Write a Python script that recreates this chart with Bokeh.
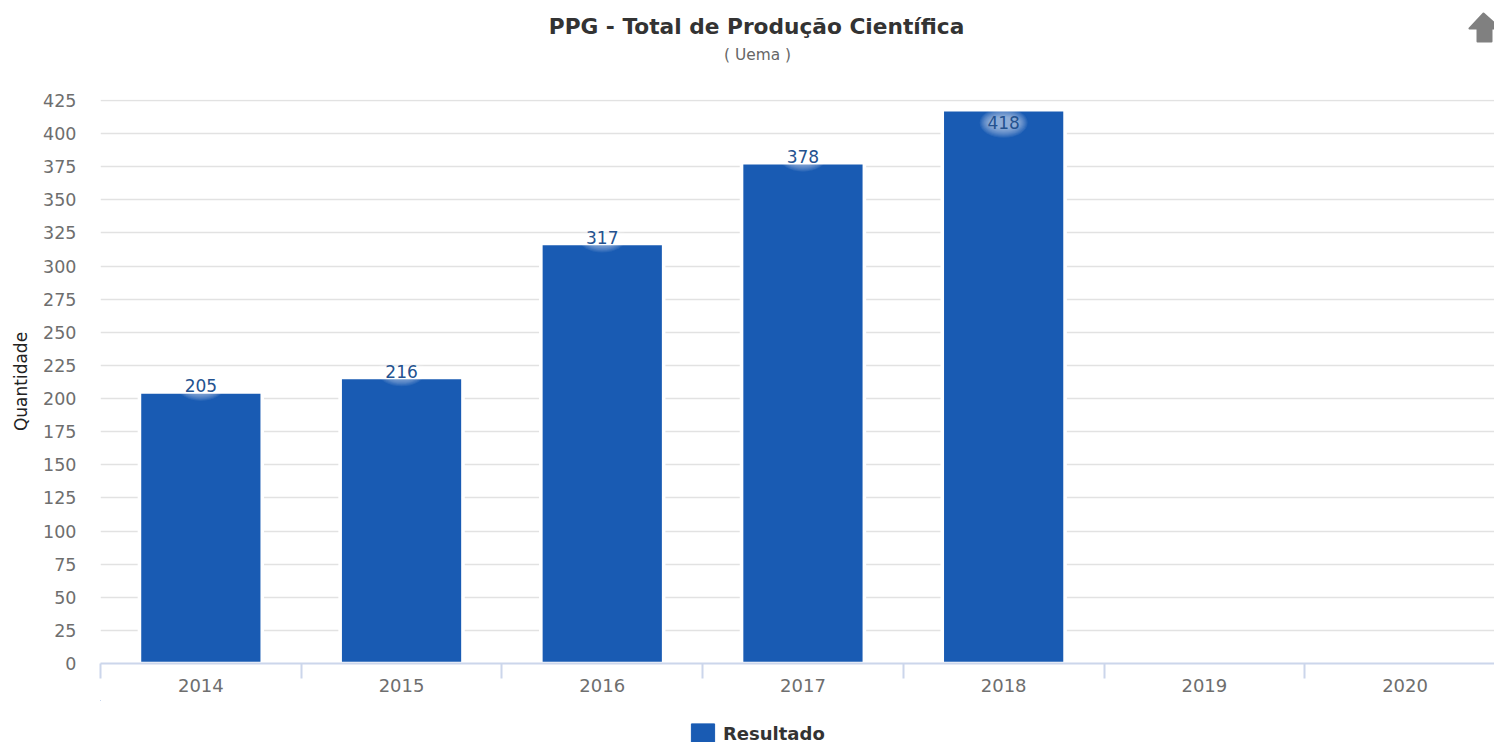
from bokeh.plotting import figure
from bokeh.layouts import column
from bokeh.embed import file_html
from bokeh.resources import INLINE
from bokeh.core.properties import value
from bokeh.models import (Range1d, FixedTicker, Legend, LegendItem, ColumnDataSource)

years = ["2014", "2015", "2016", "2017", "2018", "2019", "2020"]
results = [205, 216, 317, 378, 418]
y_ticks = list(range(0, 426, 25))
title_text = "PPG - Total de Produção Científica"
subtitle_text = "( Uema )"
y_title = "Quantidade"
series_name = "Resultado"

FONT = "DejaVu Sans"
BLUE = "#195bb3"
W = 1494
HEAD_H, MAIN_H, FOOT_H = 80, 620, 42
LEFT, TOP, BOTTOM = 100, 19, 37
CELL = 200.7
PX = 425 / 563            # data units per pixel
Y_MAX = 425 + PX          # one pixel of headroom, so the top grid line is drawn
X_START = -0.5


def blank(height):
    """A strip of the page; the stacked frames line up, so its x range starts at LEFT."""
    f = figure(width=W, height=height, output_backend="svg", toolbar_location=None,
               x_range=Range1d(LEFT, W), y_range=Range1d(height, 0),
               min_border_left=LEFT, min_border_right=0, min_border_top=0, min_border_bottom=0,
               x_axis_location=None, y_axis_location=None)
    f.grid.visible = False
    f.outline_line_color = None
    f.background_fill_color = "white"
    f.border_fill_color = "white"
    return f


# header: title, subtitle, exporting-menu icon
head = blank(HEAD_H)
head.text(x=[756], y=[26], text=[title_text], text_align="center", text_baseline="middle",
          text_font=value(FONT), text_font_size="21.7px", text_font_style="bold", text_color="#333333")
head.text(x=[757], y=[54], text=[subtitle_text], text_align="center", text_baseline="middle",
          text_font=value(FONT), text_font_size="15.4px", text_color="#666666")
icon_x = [1483, 1469, 1477, 1477, 1491, 1491, 1500]
icon_y = [13, 28, 28, 41, 41, 28, 28]
head.patch(icon_x, icon_y, fill_color="#808080", line_color="#808080", line_width=2, line_join="round")

# main chart
p = figure(width=W, height=MAIN_H, output_backend="svg", toolbar_location=None,
           x_range=Range1d(X_START, X_START + (W - LEFT) / CELL), y_range=Range1d(0, Y_MAX),
           min_border_left=LEFT, min_border_right=0, min_border_top=TOP, min_border_bottom=BOTTOM)
p.outline_line_color = None
p.background_fill_color = "white"
p.border_fill_color = "white"

p.xgrid.visible = False
p.ygrid.ticker = FixedTicker(ticks=y_ticks)
p.ygrid.grid_line_color = "#e2e2e2"
p.ygrid.grid_line_width = 1.6

p.yaxis.ticker = FixedTicker(ticks=y_ticks)
p.yaxis.axis_line_color = None
p.yaxis.major_tick_line_color = None
p.yaxis.minor_tick_line_color = None
p.yaxis.major_tick_out = 0
p.yaxis.major_tick_in = 0
p.yaxis.minor_tick_out = 0
p.yaxis.minor_tick_in = 0
p.yaxis.major_label_text_font = FONT
p.yaxis.major_label_text_font_size = "17.5px"
p.yaxis.major_label_text_color = "#6e6e6e"
p.yaxis.major_label_standoff = 24
p.yaxis.axis_label = y_title
p.yaxis.axis_label_text_font = FONT
p.yaxis.axis_label_text_font_size = "17px"
p.yaxis.axis_label_text_font_style = "normal"
p.yaxis.axis_label_text_color = "#222222"
p.yaxis.axis_label_standoff = 9

centers = list(range(len(years)))
bounds = [c - 0.5 for c in centers]
p.xaxis.ticker = FixedTicker(ticks=centers, minor_ticks=bounds)
p.xaxis.major_label_overrides = {c: y for c, y in zip(centers, years)}
p.xaxis.axis_line_color = "#ccd6eb"
p.xaxis.axis_line_width = 2
p.xaxis.major_tick_line_color = None
p.xaxis.major_tick_out = 0
p.xaxis.major_tick_in = 0
p.xaxis.minor_tick_line_color = "#ccd6eb"
p.xaxis.minor_tick_line_width = 2
p.xaxis.minor_tick_out = 15
p.xaxis.minor_tick_in = 0
p.xaxis.major_label_text_font = FONT
p.xaxis.major_label_text_font_size = "18px"
p.xaxis.major_label_text_color = "#6e6e6e"
p.xaxis.major_label_standoff = 0

# bars (white outline as in the source chart; the lower edge runs under the axis)
src = ColumnDataSource(dict(x=centers[:len(results)], top=results))
bars = p.vbar(x="x", top="top", bottom=-8, width=0.612, source=src,
              fill_color=BLUE, line_color="white", line_width=3.6)

# data labels with a soft white halo; the tallest bar keeps its label inside the plot
label_dy = [-6 if v <= 410 else 13 for v in results]
lab = ColumnDataSource(dict(x=src.data["x"],
                            y=results,
                            halo_y=[v - dy * PX for v, dy in zip(results, label_dy)],
                            dy=label_dy,
                            lab=[str(v) for v in results]))
for k in range(10):
    p.ellipse(x="x", y="halo_y", width=48 - 2.2 * k, height=30 - 2 * k,
              width_units="screen", height_units="screen",
              source=lab, fill_color="white", fill_alpha=0.07, line_color=None)
p.text(x="x", y="y", text="lab", source=lab, text_align="center", text_baseline="middle",
       y_offset="dy", text_font=value(FONT), text_font_size="17px", text_color="#24528f")

# footer: legend; its swatch comes from a renderer parked outside the strip's range
foot = blank(FOOT_H)
swatch = foot.vbar(x=[-100], top=[0], bottom=[0], width=[1], fill_color=BLUE, line_color=BLUE)
foot.add_layout(Legend(items=[LegendItem(label=series_name, renderers=[swatch])],
                       location=(588, -3), orientation="horizontal", background_fill_alpha=0,
                       border_line_color=None, glyph_width=29, glyph_height=24, margin=0, padding=0,
                       label_text_font=FONT, label_text_font_size="18px", label_text_font_style="bold",
                       label_text_color="#333333", label_standoff=6, label_height=24), "center")

page = column(head, p, foot, spacing=0)
open("out.html", "w").write(file_html(page, INLINE))
